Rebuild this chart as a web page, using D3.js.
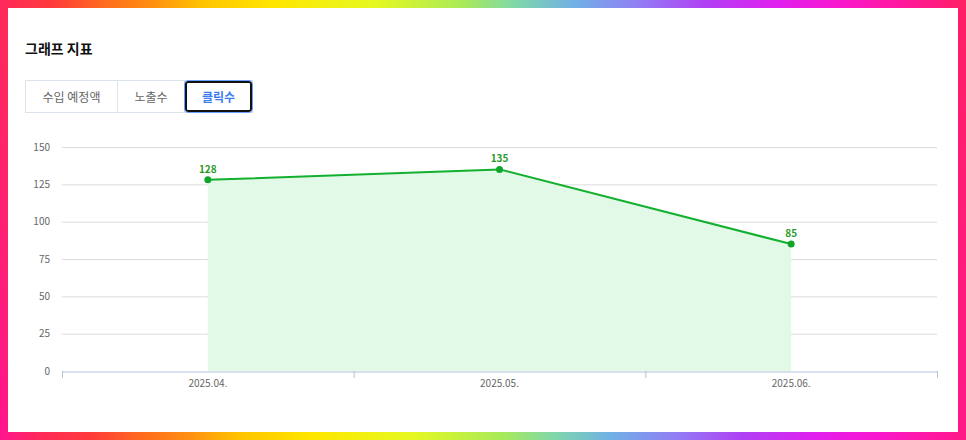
<!DOCTYPE html>
<html>
<head>
<meta charset="utf-8">
<script src="https://cdn.jsdelivr.net/npm/d3@7"></script>
<style>
  body { margin: 0; }
  .frame {
    position: relative;
    width: 966px; height: 440px;
    background: linear-gradient(85deg, #ff1490 0%, #ff2a5a 4%, #ff3a3a 9%, #ff6a20 14%, #ff9010 19%, #ffc400 24%, #ffe600 31%, #e6f820 41%, #a8ea5a 50%, #80d8a8 55%, #70b0e6 61%, #9080f4 67%, #b040f4 74%, #e020f0 81%, #f818d0 87%, #ff18a0 93%, #ff1a80 97%, #ff2060 100%);
    font-family: "Noto Sans CJK KR", "Noto Sans", sans-serif;
  }
  .inner {
    position: absolute; left: 8px; top: 8px; width: 950px; height: 424px;
    background: #fff;
  }
  .title {
    position: absolute; left: 25px; top: 38px;
    font-size: 14px; font-weight: bold; color: #111;
  }
  .tabs {
    position: absolute; left: 25px; top: 80px; height: 33px;
    display: flex; border: 1px solid #dde3ea; box-sizing: border-box;
  }
  .tab {
    height: 31px; line-height: 31px; text-align: center;
    font-size: 12px; color: #666; border-right: 1px solid #dde3ea;
    box-sizing: border-box;
  }
  .tab.on {
    color: #3d7cf0; font-weight: bold; border: 2px solid #111; border-radius: 3px;
    outline: 1px solid #6aa0ff; outline-offset: 0; line-height: 27px;
  }
  svg { position: absolute; left: 0; top: 0; }
</style>
</head>
<body>
<div class="frame">
  <div class="inner"></div>
  <div class="title">그래프 지표</div>
  <div class="tabs" id="tabs"></div>
  <svg id="chart" width="966" height="440"></svg>
</div>
<script>
var tabNames = ["수입 예정액", "노출수", "클릭수"];
var tabWidths = [92, 67, 67];
var months = ["2025.04.", "2025.05.", "2025.06."];
var clicks = [128, 135, 85];
var yTicks = [0, 25, 50, 75, 100, 125, 150];

d3.select("#tabs").selectAll("div")
  .data(tabNames)
  .enter()
  .append("div")
  .attr("class", function(d, i) { return i == 2 ? "tab on" : "tab"; })
  .style("width", function(d, i) { return tabWidths[i] + "px"; })
  .text(function(d) { return d; });

var plotL = 62, plotR = 937, plotT = 147, plotB = 371;

var svg = d3.select("#chart");

var x = d3.scaleBand()
  .domain(months)
  .range([plotL, plotR]);
var y = d3.scaleLinear()
  .domain([0, 150])
  .range([plotB, plotT]);

// gridlines
svg.append("g")
  .selectAll("line")
  .data(yTicks.filter(function(d) { return d > 0; }))
  .enter()
  .append("line")
  .attr("x1", plotL)
  .attr("x2", plotR)
  .attr("y1", function(d) { return y(d) + 0.5; })
  .attr("y2", function(d) { return y(d) + 0.5; })
  .attr("stroke", "#dcdcdc")
  .attr("stroke-width", 1);

// y labels
svg.append("g")
  .selectAll("text")
  .data(yTicks)
  .enter()
  .append("text")
  .attr("x", 50)
  .attr("y", function(d) { return y(d); })
  .attr("dy", "0.35em")
  .attr("text-anchor", "end")
  .attr("font-size", 10)
  .attr("font-family", "Noto Sans CJK KR, sans-serif")
  .attr("fill", "#666")
  .text(function(d) { return d; });

var cx = function(d, i) { return x(months[i]) + x.bandwidth() / 2; };

// area
var area = d3.area()
  .x(cx)
  .y0(y(0))
  .y1(function(d) { return y(d); });
svg.append("path")
  .datum(clicks)
  .attr("d", area)
  .attr("fill", "#e2f9e8");

// x axis
var xAxis = d3.axisBottom(x)
  .tickSize(0)
  .tickSizeOuter(0)
  .tickFormat(function(d) { return d; });
var gx = svg.append("g")
  .attr("transform", "translate(0," + (plotB + 0.5) + ")")
  .call(xAxis);
gx.select(".domain").attr("stroke", "#b4c2dc");
gx.selectAll(".tick text")
  .attr("fill", "#666")
  .attr("font-size", 10)
  .attr("font-family", "Noto Sans CJK KR, sans-serif")
  .attr("dy", "1.2em");
svg.append("g")
  .selectAll("line")
  .data(d3.range(months.length + 1))
  .enter()
  .append("line")
  .attr("x1", function(d) { return plotL + d * x.step() + 0.5; })
  .attr("x2", function(d) { return plotL + d * x.step() + 0.5; })
  .attr("y1", plotB)
  .attr("y2", plotB + 7)
  .attr("stroke", "#b4c2dc");

// line
var line = d3.line()
  .x(cx)
  .y(function(d) { return y(d); });
svg.append("path")
  .datum(clicks)
  .attr("d", line)
  .attr("fill", "none")
  .attr("stroke", "#12b02e")
  .attr("stroke-width", 2);

svg.append("g")
  .selectAll("circle")
  .data(clicks)
  .enter()
  .append("circle")
  .attr("cx", cx)
  .attr("cy", function(d) { return y(d); })
  .attr("r", 3.5)
  .attr("fill", "#0ea52a");

svg.append("g")
  .selectAll("text")
  .data(clicks)
  .enter()
  .append("text")
  .attr("x", cx)
  .attr("y", function(d) { return y(d) - 7; })
  .attr("text-anchor", "middle")
  .attr("font-size", 10)
  .attr("font-weight", "bold")
  .attr("font-family", "Noto Sans CJK KR, sans-serif")
  .attr("fill", "#2a9a2a")
  .text(function(d) { return d; });
</script>
</body>
</html>
